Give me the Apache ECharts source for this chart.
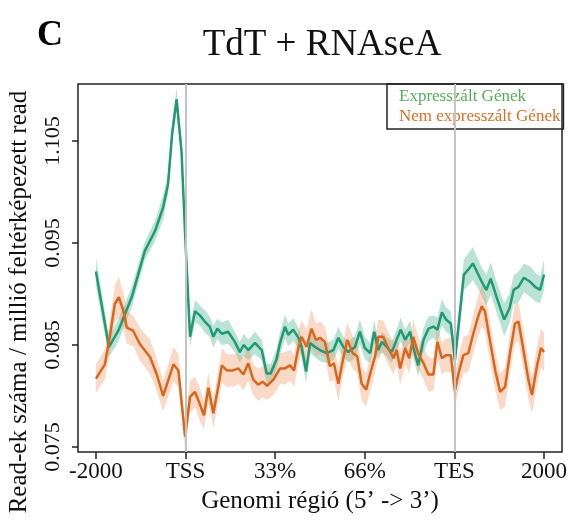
<!DOCTYPE html>
<html>
<head>
<meta charset="utf-8">
<script src="https://cdn.jsdelivr.net/npm/echarts@6/dist/echarts.min.js"></script>
<style>html,body{margin:0;padding:0;background:#fff}#c{width:579px;height:531px}</style>
</head>
<body>
<div id="c"></div>
<script>
// x positions are genomic bins: 0 = -2000, 20 = TSS, 40 = 33%, 60 = 66%, 80 = TES, 100 = 2000
const xTickPos = [0, 20, 40, 60, 80, 100];
const xTickLabels = ['-2000', 'TSS', '33%', '66%', 'TES', '2000'];
const yTickPos = [0.075, 0.085, 0.095, 0.105];
const yTickLabels = ['0.075', '0.085', '0.095', '1.105'];
const markerPos = [20, 80];

const greenPos = [0,2.9,5,8,10.9,13.2,15,16.1,17,18,19.1,19.9,21,22.1,23.2,24.3,25.4,26.2,27.1,28.1,29.5,31,32.1,33,34,35.5,37,38.1,39,40.3,41.1,42.2,42.9,44,45.2,45.9,46.9,47.8,48.9,50,51.5,53,54.1,55.2,56.3,57.8,58.9,60,61.2,62.1,63,63.8,64.9,66,67.1,68,69,70.1,70.8,71.9,73.1,74.2,75.3,76.2,77.2,78.1,79.2,80.1,80.9,82.1,83.1,84.1,85,86.1,87.1,88.1,89.4,91.1,92.3,93.2,94.3,95.5,96.9,98,99.1,100];
const greenMean = [.0922,.0848,.0864,.0897,.0942,.0962,.0985,.1008,.1057,.1091,.1040,.0959,.0858,.0883,.0879,.0873,.0868,.0858,.0866,.0861,.0863,.0853,.0843,.0850,.0845,.0852,.0845,.0822,.0822,.0836,.0852,.0868,.0860,.0865,.0857,.0848,.0824,.0852,.0848,.0845,.0842,.0845,.0857,.0848,.0843,.0848,.0863,.0847,.0842,.0863,.0845,.0853,.0848,.0843,.0855,.0865,.0855,.0863,.0848,.0830,.0855,.0866,.0868,.0865,.0882,.0875,.0871,.0835,.0868,.0919,.0924,.0930,.0922,.0912,.0904,.0915,.0897,.0875,.0886,.0904,.0907,.0916,.0912,.0907,.0904,.0919];
const greenBand = [.0014,.0010,.0011,.0010,.0009,.0010,.0012,.0010,.0010,.0011,.0010,.0009,.0010,.0011,.0010,.0011,.0010,.0011,.0010,.0011,.0012,.0010,.0010,.0011,.0010,.0011,.0010,.0010,.0009,.0010,.0011,.0012,.0011,.0011,.0010,.0010,.0011,.0010,.0010,.0011,.0010,.0010,.0011,.0010,.0010,.0011,.0012,.0011,.0010,.0011,.0010,.0010,.0010,.0011,.0010,.0012,.0010,.0011,.0010,.0011,.0012,.0012,.0011,.0012,.0013,.0012,.0012,.0011,.0013,.0015,.0016,.0016,.0015,.0014,.0015,.0016,.0015,.0016,.0015,.0014,.0015,.0014,.0015,.0014,.0013,.0015];

const orangePos = [0,2,3.1,4.2,5.1,6.1,6.9,8.3,9.8,12.1,13.5,15,17.3,18.4,19.9,21,22.1,23.1,24.1,25.1,26.2,27.3,28.1,29.2,30.6,31.8,32.9,34,35.1,36.2,37.2,38.2,39.6,40.4,41.1,42.2,43.3,44.2,45.2,45.9,47,48.1,49.1,50,51.1,52.2,53.1,54.1,55.1,56.1,57.3,58.3,59.3,60.3,61.2,62.3,63,64.1,65.2,66.4,67.1,67.9,69,69.9,70.8,71.9,73.1,74.2,75.3,76.2,77.2,78.1,79.2,80.1,80.9,82,83.1,84.2,85.3,86.1,86.8,87.9,89.1,90.2,91.3,92.4,93.5,94.3,95.4,96.5,97.3,98.4,99.3,100];
const orangeMean = [.0817,.0831,.0858,.0890,.0897,.0884,.0867,.0864,.0851,.0838,.0822,.0800,.0831,.0825,.0760,.0799,.0804,.0793,.0781,.0808,.0783,.0809,.0830,.0825,.0825,.0827,.0821,.0832,.0816,.0811,.0814,.0810,.0816,.0822,.0827,.0827,.0830,.0825,.0848,.0858,.0848,.0866,.0855,.0857,.0853,.0829,.0832,.0812,.0835,.0855,.0842,.0839,.0812,.0806,.0822,.0839,.0858,.0858,.0847,.0837,.0845,.0827,.0847,.0837,.0858,.0842,.0832,.0821,.0821,.0853,.0837,.0840,.0840,.0805,.0822,.0840,.0842,.0861,.0878,.0888,.0883,.0855,.0825,.0804,.0809,.0842,.0871,.0873,.0845,.0816,.0801,.0829,.0847,.0843];
const orangeBand = [.0014,.0015,.0016,.0018,.0020,.0018,.0016,.0015,.0016,.0017,.0016,.0015,.0017,.0016,.0012,.0016,.0015,.0016,.0014,.0015,.0014,.0015,.0017,.0016,.0016,.0015,.0016,.0017,.0015,.0016,.0015,.0014,.0015,.0016,.0015,.0016,.0015,.0016,.0017,.0016,.0017,.0019,.0016,.0016,.0015,.0016,.0016,.0017,.0016,.0017,.0016,.0016,.0017,.0016,.0017,.0016,.0017,.0016,.0016,.0016,.0015,.0016,.0016,.0015,.0017,.0016,.0016,.0017,.0016,.0017,.0016,.0016,.0017,.0016,.0017,.0018,.0018,.0019,.0020,.0020,.0019,.0019,.0019,.0018,.0019,.0019,.0020,.0019,.0019,.0019,.0018,.0019,.0019,.0019];

const seriesNames = ['Expresszált Gének', 'Nem expresszált Gének'];

const SERIF = 'Liberation Serif';
const GREEN = '#1f9a72', ORANGE = '#d8661c';

function pairs(pos, val) { return pos.map((p, i) => [p, val[i]]); }
function band(pos, mean, hw, fill) {
  return {
    type: 'custom', silent: true, z: 1,
    data: pairs(pos, mean),
    renderItem: function (params, api) {
      if (params.dataIndex !== 0) return null;
      const pts = [];
      for (let i = 0; i < pos.length; i++) pts.push(api.coord([pos[i], mean[i] + hw[i]]));
      for (let i = pos.length - 1; i >= 0; i--) pts.push(api.coord([pos[i], mean[i] - hw[i]]));
      return { type: 'polygon', shape: { points: pts }, style: { fill: fill } };
    }
  };
}
function near(arr, v) { return arr.findIndex(a => Math.abs(a - v) < 1e-9); }

const chart = echarts.init(document.getElementById('c'), null, { renderer: 'canvas' });
chart.setOption({
  animation: false,
  backgroundColor: '#fff',
  grid: { left: 78, right: 17, top: 84, bottom: 79, show: true, borderColor: '#222', borderWidth: 1.5, backgroundColor: 'transparent' },
  xAxis: {
    type: 'value', min: -4, max: 104,
    axisLine: { show: false, onZero: false },
    splitLine: { show: false },
    axisTick: { show: true, customValues: xTickPos, length: 7, lineStyle: { color: '#222', width: 1.5 } },
    axisLabel: { customValues: xTickPos, formatter: v => xTickLabels[near(xTickPos, v)], fontFamily: SERIF, fontSize: 23, color: '#111', margin: 8 }
  },
  yAxis: {
    type: 'value', min: 0.0745, max: 0.1106,
    axisLine: { show: false, onZero: false },
    splitLine: { show: false },
    axisTick: { show: true, customValues: yTickPos, length: 6, lineStyle: { color: '#222', width: 1.5 } },
    axisLabel: { customValues: yTickPos, formatter: v => yTickLabels[near(yTickPos, v)], rotate: 90, fontFamily: SERIF, fontSize: 22, color: '#111', margin: 14 }
  },
  legend: {
    left: 387, top: 84, orient: 'vertical',
    itemWidth: 0, itemHeight: 0, itemGap: 3,
    padding: [4, 3, 4, 6],
    borderColor: '#222', borderWidth: 1.5,
    textStyle: { fontFamily: SERIF, fontSize: 17 },
    data: [
      { name: seriesNames[0], textStyle: { color: '#55ad5a' } },
      { name: seriesNames[1], textStyle: { color: '#df6d26' } }
    ]
  },
  graphic: [
    { type: 'text', x: 37, y: 18, style: { text: 'C', fill: '#000', font: 'bold 36px "Liberation Serif"' } },
    { type: 'text', x: 322, y: 45, style: { text: 'TdT + RNAseA', fill: '#111', font: '37px "Liberation Serif"', align: 'center', verticalAlign: 'middle' } },
    { type: 'text', x: 320, y: 501, style: { text: 'Genomi régió (5’ -> 3’)', fill: '#111', font: '25px "Liberation Serif"', align: 'center', verticalAlign: 'middle' } },
    { type: 'text', x: 19, y: 302, rotation: Math.PI / 2, style: { text: 'Read-ek száma / millió feltérképezett read', fill: '#111', font: '25px "Liberation Serif"', align: 'center', verticalAlign: 'middle' } }
  ],
  series: [
    {
      type: 'line', data: [], silent: true, z: 0,
      markLine: { symbol: 'none', silent: true, animation: false, label: { show: false }, lineStyle: { color: '#c4c4c4', width: 2, type: 'solid' }, data: markerPos.map(p => ({ xAxis: p })) }
    },
    band(greenPos, greenMean, greenBand, 'rgba(102,194,165,0.45)'),
    band(orangePos, orangeMean, orangeBand, 'rgba(240,150,100,0.36)'),
    { name: seriesNames[0], type: 'line', data: pairs(greenPos, greenMean), showSymbol: false, z: 3, color: GREEN, lineStyle: { color: GREEN, width: 2.5 } },
    { name: seriesNames[1], type: 'line', data: pairs(orangePos, orangeMean), showSymbol: false, z: 3, color: ORANGE, lineStyle: { color: ORANGE, width: 2.5 } }
  ]
});
</script>
</body>
</html>
